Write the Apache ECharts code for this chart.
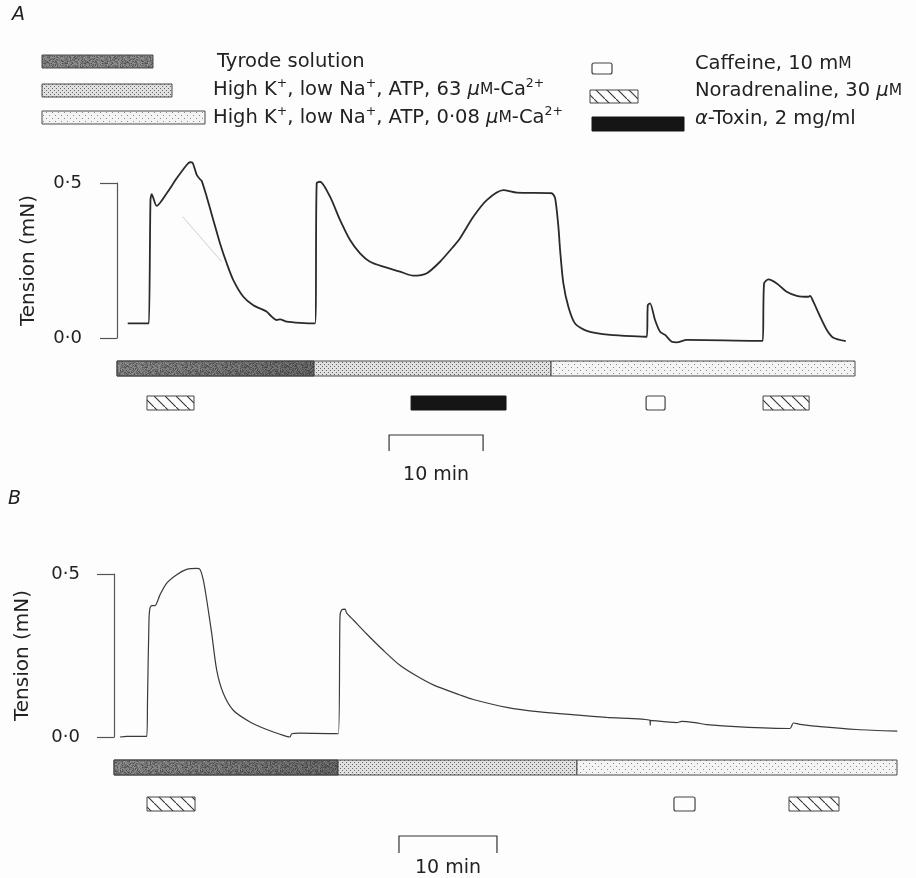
<!DOCTYPE html>
<html><head><meta charset="utf-8">
<script src="https://cdn.jsdelivr.net/npm/echarts@6/dist/echarts.min.js"></script>
<style>html,body{margin:0;padding:0;background:#fdfdfd}#c{width:916px;height:878px}</style>
</head><body><div id="c"></div>
<script>
// ---------------- DATA ----------------
// Panel A trace: time (min) and tension (mN)
const traceATime = [1.14, 3.27, 3.40, 3.56, 3.69, 4.22, 5.29, 6.35, 7.41, 7.77, 8.05, 8.48, 8.83, 9.01, 9.54, 10.24, 10.96, 11.67, 12.37, 13.44, 14.50, 15.93, 16.28, 16.99, 17.34, 18.05, 19.47, 21.06, 21.24, 21.60, 22.66, 23.72, 24.79, 25.85, 26.91, 28.33, 30.11, 31.52, 32.95, 34.36, 35.78, 36.49, 37.90, 39.33, 41.10, 42.52, 46.24, 46.60, 46.95, 47.13, 47.48, 48.01, 48.72, 49.97, 52.45, 56.35, 56.46, 56.70, 57.23, 57.77, 58.30, 59.01, 59.54, 60.61, 68.40, 68.69, 68.83, 69.29, 70.18, 71.24, 72.31, 73.54, 73.72, 74.07, 74.79, 75.50, 76.20, 77.52];
const traceATension = [0.047, 0.047, 0.047, 0.445, 0.464, 0.426, 0.467, 0.515, 0.558, 0.567, 0.565, 0.526, 0.512, 0.507, 0.456, 0.381, 0.305, 0.241, 0.187, 0.133, 0.106, 0.085, 0.074, 0.058, 0.060, 0.053, 0.049, 0.047, 0.499, 0.504, 0.456, 0.381, 0.316, 0.273, 0.246, 0.230, 0.214, 0.201, 0.209, 0.246, 0.295, 0.322, 0.391, 0.445, 0.477, 0.469, 0.467, 0.451, 0.359, 0.284, 0.176, 0.101, 0.047, 0.023, 0.010, 0.004, 0.106, 0.112, 0.058, 0.020, 0.010, -0.012, -0.014, -0.006, -0.009, -0.009, 0.176, 0.189, 0.176, 0.149, 0.136, 0.133, 0.136, 0.117, 0.069, 0.026, 0.001, -0.010];
// faint straight pencil line in panel A
const faintATime = [6.99, 11.14];
const faintATension = [0.391, 0.246];

// Panel B trace
const traceBTime = [0.61, 1.30, 3.34, 3.42, 3.57, 3.67, 3.85, 4.18, 4.69, 5.38, 6.40, 7.42, 8.44, 8.78, 9.11, 9.46, 9.97, 10.48, 11.15, 12.17, 13.88, 15.58, 17.28, 17.96, 18.13, 18.98, 22.89, 23.06, 23.23, 23.57, 23.74, 24.42, 25.79, 27.48, 29.18, 30.89, 32.58, 35.31, 36.66, 40.07, 43.47, 47.38, 50.28, 54.69, 54.72, 54.75, 57.42, 57.93, 59.29, 60.48, 63.88, 68.98, 69.32, 70.00, 72.38, 75.79, 79.93];
const traceBTension = [0.000, 0.002, 0.002, 0.113, 0.359, 0.395, 0.403, 0.403, 0.436, 0.472, 0.498, 0.514, 0.517, 0.514, 0.482, 0.421, 0.318, 0.205, 0.134, 0.082, 0.046, 0.023, 0.005, 0.000, 0.010, 0.012, 0.010, 0.369, 0.390, 0.392, 0.380, 0.359, 0.316, 0.266, 0.220, 0.187, 0.160, 0.129, 0.115, 0.091, 0.077, 0.067, 0.060, 0.051, 0.036, 0.051, 0.044, 0.048, 0.044, 0.038, 0.031, 0.026, 0.043, 0.039, 0.031, 0.023, 0.018];

// Solutions (0 = Tyrode, 1 = 63 µM Ca, 2 = 0.08 µM Ca)
const solutionKind = [0, 1, 2];
const solutionStartA = [0, 20.96, 46.17];
const solutionEndA = [20.96, 46.17, 78.5];
const solutionStartB = [0, 22.86, 47.24];
const solutionEndB = [22.86, 47.24, 79.9];

// Drug applications
const drugKindA = ['noradrenaline', 'toxin', 'caffeine', 'noradrenaline'];
const drugStartA = [3.19, 31.28, 56.28, 68.72];
const drugEndA = [8.19, 41.38, 58.30, 73.62];
const drugKindB = ['noradrenaline', 'caffeine', 'noradrenaline'];
const drugStartB = [3.37, 57.14, 68.88];
const drugEndB = [8.27, 59.29, 73.98];

// Time scale bars (min)
const scaleBarStart = [28.94, 29.08];
const scaleBarLength = 10;
const scaleBarLabel = '10 min';

// Axis
const tensionTicks = [0, 0.5];
const axisName = 'Tension (mN)';
const timeMaxA = 78.5, timeMaxB = 79.9;

// ---------------- STYLE / LAYOUT ----------------
const FONT = 'DejaVu Sans';
const INK = '#222';
const BG = '#fdfdfd';
const layoutA = {solTop: 23, solH: 15, drugTop: 58, drugH: 14, scaleTop: 97, scaleBot: 113, textY: 137};
const layoutB = {solTop: 23, solH: 15, drugTop: 60, drugH: 14, scaleTop: 99, scaleBot: 116, textY: 131};

function h01(x, y, s) {
  let h = Math.imul(x, 374761393) + Math.imul(y, 668265263) + Math.imul(s, 1013904223);
  h = Math.imul(h ^ (h >>> 13), 1274126177);
  h = h ^ (h >>> 16);
  return ((h >>> 0) % 1000) / 1000;
}
function makeCanvas(w, h, draw) {
  const c = document.createElement('canvas'); c.width = w; c.height = h;
  draw(c.getContext('2d'), w, h); return c;
}
const tyrodeCanvas = makeCanvas(40, 16, (ctx, w, h) => {
  const img = ctx.createImageData(w, h);
  for (let y = 0; y < h; y++) for (let x = 0; x < w; x++) {
    const v = h01(x, y, 7);
    let g = 122 + (v - 0.5) * 60;
    if (v < 0.12) g = 82;
    const i = (y * w + x) * 4;
    img.data[i] = img.data[i + 1] = img.data[i + 2] = g; img.data[i + 3] = 255;
  }
  ctx.putImageData(img, 0, 0);
});
const ca63Canvas = makeCanvas(4, 4, (ctx) => {
  ctx.fillStyle = '#e0e0e0'; ctx.fillRect(0, 0, 4, 4);
  ctx.fillStyle = '#666'; ctx.fillRect(0, 0, 1, 1); ctx.fillRect(2, 2, 1, 1);
});
const ca008Canvas = makeCanvas(6, 6, (ctx) => {
  ctx.fillStyle = '#f3f3f3'; ctx.fillRect(0, 0, 6, 6);
  ctx.fillStyle = '#8a8a8a'; ctx.fillRect(1, 1, 1, 1); ctx.fillRect(4, 4, 1, 1);
});
const hatchCanvas = makeCanvas(11, 11, (ctx) => {
  ctx.fillStyle = BG; ctx.fillRect(0, 0, 11, 11);
  ctx.strokeStyle = '#333'; ctx.lineWidth = 1.1;
  ctx.beginPath(); ctx.moveTo(-1, -1); ctx.lineTo(12, 12); ctx.stroke();
});
const solutionFills = [
  {image: tyrodeCanvas, repeat: 'repeat'},
  {image: ca63Canvas, repeat: 'repeat'},
  {image: ca008Canvas, repeat: 'repeat'}
];
const hatchFill = {image: hatchCanvas, repeat: 'repeat'};
const darken = {type: 'linear', x: 0, y: 0, x2: 1, y2: 0, colorStops: [{offset: 0, color: 'rgba(0,0,0,0)'}, {offset: 1, color: 'rgba(0,0,0,0.22)'}]};

function drugShape(kind, x, y, w, h) {
  if (kind === 'toxin') return {type: 'rect', shape: {x, y, width: w, height: h}, style: {fill: '#151515', stroke: '#151515', lineWidth: 1}};
  if (kind === 'caffeine') return {type: 'rect', shape: {x, y, width: w, height: h, r: 2}, style: {fill: BG, stroke: '#444', lineWidth: 1.2}};
  return {type: 'rect', shape: {x, y, width: w, height: h}, style: {fill: hatchFill, stroke: '#444', lineWidth: 1}};
}

// ---------------- SERIES BUILDERS ----------------
function pairs(xs, ys) { return xs.map((x, i) => [x, ys[i]]); }

function solutionSeries(idx, starts, ends, L) {
  return {
    type: 'custom', xAxisIndex: idx, yAxisIndex: idx, silent: true,
    encode: {x: [0, 1], y: 2},
    data: starts.map((s, i) => [s, ends[i], 0, solutionKind[i]]),
    renderItem: (params, api) => {
      const p0 = api.coord([api.value(0), 0]), p1 = api.coord([api.value(1), 0]);
      const k = api.value(3);
      const r = {x: p0[0], y: p0[1] + L.solTop, width: p1[0] - p0[0], height: L.solH};
      const children = [{type: 'rect', shape: r, style: {fill: solutionFills[k], stroke: '#4a4a4a', lineWidth: 1}}];
      if (k === 0) children.push({type: 'rect', shape: r, style: {fill: darken, stroke: '#4a4a4a', lineWidth: 1}});
      return {type: 'group', children};
    }
  };
}
function drugSeries(idx, kinds, starts, ends, L) {
  return {
    type: 'custom', xAxisIndex: idx, yAxisIndex: idx, silent: true,
    encode: {x: [0, 1], y: 2},
    data: starts.map((s, i) => [s, ends[i], 0, i]),
    renderItem: (params, api) => {
      const p0 = api.coord([api.value(0), 0]), p1 = api.coord([api.value(1), 0]);
      return drugShape(kinds[api.value(3)], p0[0], p0[1] + L.drugTop, p1[0] - p0[0], L.drugH);
    }
  };
}
function scaleSeries(idx, start, L) {
  return {
    type: 'custom', xAxisIndex: idx, yAxisIndex: idx, silent: true,
    encode: {x: [0, 1], y: 2},
    data: [[start, start + scaleBarLength, 0]],
    renderItem: (params, api) => {
      const p0 = api.coord([api.value(0), 0]), p1 = api.coord([api.value(1), 0]);
      const y0 = p0[1];
      return {type: 'group', children: [
        {type: 'polyline', shape: {points: [[p0[0], y0 + L.scaleBot], [p0[0], y0 + L.scaleTop], [p1[0], y0 + L.scaleTop], [p1[0], y0 + L.scaleBot]]},
         style: {stroke: '#333', lineWidth: 1.2, fill: null}},
        {type: 'text', x: (p0[0] + p1[0]) / 2, y: y0 + L.textY,
         style: {text: scaleBarLabel, align: 'center', verticalAlign: 'middle', font: '19px "' + FONT + '"', fill: INK}}
      ]};
    }
  };
}
function yAxisDef(idx, offset, nameGap) {
  return {
    gridIndex: idx, type: 'value', min: tensionTicks[0], max: tensionTicks[1], interval: tensionTicks[1] - tensionTicks[0],
    offset: offset,
    axisLine: {show: true, lineStyle: {color: '#555', width: 1.2}},
    axisTick: {show: true, length: 17, inside: false, lineStyle: {color: '#555', width: 1.2}},
    axisLabel: {margin: 23, fontSize: 18, color: INK, fontFamily: FONT, formatter: v => v.toFixed(1).replace('.', '·')},
    splitLine: {show: false},
    name: axisName, nameLocation: 'middle', nameGap: nameGap,
    nameTextStyle: {fontSize: 20, color: INK, fontFamily: FONT}
  };
}

// ---------------- LEGEND (graphic) ----------------
const rich = {
  t: {fontSize: 19.5, fontFamily: FONT, color: INK, lineHeight: 26},
  s: {fontSize: 12.5, fontFamily: FONT, color: INK, lineHeight: 15, verticalAlign: 'top'},
  g: {fontSize: 19.5, fontFamily: FONT, color: INK, lineHeight: 26, fontStyle: 'italic'},
  sc: {fontSize: 15.5, fontFamily: FONT, color: INK, lineHeight: 26}
};
function legendText(x, y, text) {
  return {type: 'text', x, y, silent: true, style: {text, rich, verticalAlign: 'middle', align: 'left', fill: INK}};
}
const legendGraphics = [
  {type: 'text', x: 12, y: 15, style: {text: 'A', font: 'italic 19px "' + FONT + '"', fill: INK, verticalAlign: 'middle'}},
  {type: 'text', x: 8, y: 499, style: {text: 'B', font: 'italic 19px "' + FONT + '"', fill: INK, verticalAlign: 'middle'}},
  {type: 'rect', shape: {x: 42, y: 55, width: 111, height: 13}, style: {fill: solutionFills[0], stroke: '#4a4a4a', lineWidth: 1}},
  {type: 'rect', shape: {x: 42, y: 84, width: 130, height: 13}, style: {fill: solutionFills[1], stroke: '#4a4a4a', lineWidth: 1}},
  {type: 'rect', shape: {x: 42, y: 111, width: 163, height: 13}, style: {fill: solutionFills[2], stroke: '#4a4a4a', lineWidth: 1}},
  legendText(217, 62, '{t|Tyrode solution}'),
  legendText(213, 90, '{t|High K}{s|+}{t|, low Na}{s|+}{t|, ATP, 63 }{g|μ}{sc|M}{t|-Ca}{s|2+}'),
  legendText(213, 118, '{t|High K}{s|+}{t|, low Na}{s|+}{t|, ATP, 0·08 }{g|μ}{sc|M}{t|-Ca}{s|2+}'),
  drugShape('caffeine', 592, 63, 20, 11),
  drugShape('noradrenaline', 590, 90, 48, 13),
  drugShape('toxin', 592, 117, 92, 14),
  legendText(695, 64, '{t|Caffeine, 10 m}{sc|M}'),
  legendText(695, 91, '{t|Noradrenaline, 30 }{g|μ}{sc|M}'),
  legendText(695, 119, '{g|α}{t|-Toxin, 2 mg/ml}')
];

// ---------------- OPTION ----------------
const traceCommon = {type: 'line', showSymbol: false, clip: false, silent: true, smooth: 0.25};
const option = {
  backgroundColor: BG,
  animation: false,
  textStyle: {fontFamily: FONT},
  grid: [
    {left: 117, top: 183, width: 738, height: 155},
    {left: 114, top: 574, width: 783, height: 163}
  ],
  xAxis: [
    {gridIndex: 0, type: 'value', min: 0, max: timeMaxA, show: false},
    {gridIndex: 1, type: 'value', min: 0, max: timeMaxB, show: false}
  ],
  yAxis: [yAxisDef(0, 12, 66), yAxisDef(1, 11, 70)],
  graphic: legendGraphics,
  series: [
    {type: 'line', xAxisIndex: 0, yAxisIndex: 0, data: pairs(faintATime, faintATension), showSymbol: false, clip: false, silent: true,
     lineStyle: {color: '#cfcfcf', width: 1}},
    Object.assign({}, traceCommon, {xAxisIndex: 0, yAxisIndex: 0, data: pairs(traceATime, traceATension),
     lineStyle: {color: '#2a2a2a', width: 1.8}}),
    Object.assign({}, traceCommon, {xAxisIndex: 1, yAxisIndex: 1, data: pairs(traceBTime, traceBTension),
     lineStyle: {color: '#3a3a3a', width: 1.2}}),
    solutionSeries(0, solutionStartA, solutionEndA, layoutA),
    solutionSeries(1, solutionStartB, solutionEndB, layoutB),
    drugSeries(0, drugKindA, drugStartA, drugEndA, layoutA),
    drugSeries(1, drugKindB, drugStartB, drugEndB, layoutB),
    scaleSeries(0, scaleBarStart[0], layoutA),
    scaleSeries(1, scaleBarStart[1], layoutB)
  ]
};
const chart = echarts.init(document.getElementById('c'), null, {renderer: 'canvas'});
chart.setOption(option);
</script></body></html>
